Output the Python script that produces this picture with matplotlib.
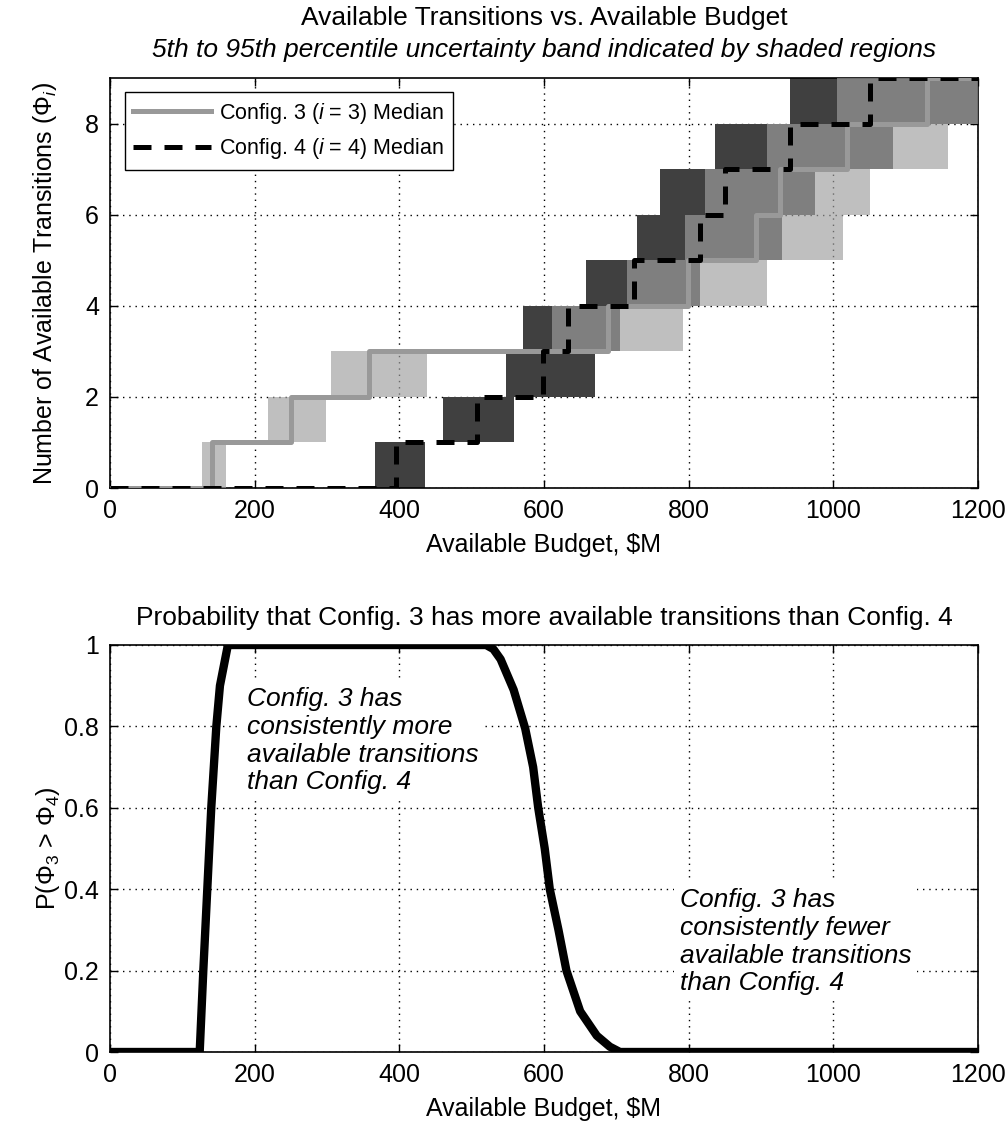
import numpy as np
import matplotlib
matplotlib.use('Agg')
import matplotlib.pyplot as plt

plt.rcParams['font.family'] = ['Liberation Sans', 'DejaVu Sans']
plt.rcParams['mathtext.fontset'] = 'custom'
plt.rcParams['mathtext.rm'] = 'Liberation Sans'
plt.rcParams['mathtext.it'] = 'Liberation Sans:italic'
plt.rcParams['font.size'] = 18

# median step locations ($M at which each extra transition becomes available)
c3_steps = [0, 141, 250, 358, 689, 799, 893, 926, 1019, 1130]
c4_steps = [0, 396, 507, 598, 633, 724, 816, 850, 940, 1051]
levels = [0, 1, 2, 3, 4, 5, 6, 7, 8, 9]

# 5th / 95th percentile of budget for reaching level k (k = 1..9)
c3_lo = [127, 218, 306, 611, 715, 795, 823, 908, 1005]
c3_hi = [161, 298, 438, 792, 908, 1013, 1051, 1159, 1250]
c4_lo = [366, 461, 547, 571, 658, 729, 760, 836, 940]
c4_hi = [436, 559, 671, 705, 816, 929, 975, 1083, 1250]

# P(phi3 > phi4) vs budget
p_x = [0, 124, 129, 134.5, 140, 147, 152, 163, 520, 530, 540, 558, 574, 585,
       592, 601, 608, 620, 631, 650, 673, 691, 705, 1200]
p_y = [0, 0, 0.2, 0.4, 0.6, 0.8, 0.9, 1, 1, 0.99, 0.965, 0.89, 0.795, 0.70,
       0.60, 0.50, 0.40, 0.30, 0.20, 0.10, 0.04, 0.013, 0, 0]

W, H = 1006, 1127
fig = plt.figure(figsize=(W / 100, H / 100), dpi=100)
ax1 = fig.add_axes([110 / W, 1 - 488 / H, 868 / W, 410 / H])
ax2 = fig.add_axes([110 / W, 1 - 1052 / H, 868 / W, 407 / H])


def style(ax):
    ax.set_axisbelow(True)
    ax.grid(True, color='k', linestyle=(0, (1, 3.5)), linewidth=1.0)
    ax.tick_params(direction='in', top=True, right=True, length=6,
                   width=1, labelsize=18, pad=8)
    for s in ax.spines.values():
        s.set_linewidth(1.2)
    ax.set_xlim(0, 1200)
    ax.set_xticks(np.arange(0, 1201, 200))
    ax.set_xlabel(r'Available Budget, \$M', labelpad=7, fontsize=18)


style(ax1)
k = np.arange(1, 10)
ax1.barh(k - 0.5, np.array(c4_hi) - np.array(c4_lo), left=c4_lo, height=1.0,
         color='0.25', linewidth=0, zorder=2)
ax1.barh(k - 0.5, np.array(c3_hi) - np.array(c3_lo), left=c3_lo, height=1.0,
         color='0.625', alpha=2 / 3, linewidth=0, zorder=3)
ax1.step(c3_steps + [1200], levels + [9], where='post', color='0.6', lw=3.6,
         zorder=4, label=r'Config. 3 ($\mathit{i}$ = 3) Median')
ax1.step(c4_steps + [1200], levels + [9], where='post', color='k', lw=3.6,
         dashes=(3.6, 2.6), zorder=5, label=r'Config. 4 ($\mathit{i}$ = 4) Median')
ax1.set_ylim(0, 9)
ax1.set_yticks([0, 2, 4, 6, 8])
ax1.set_ylabel(r'Number of Available Transitions ($\Phi_i$)', fontsize=18)
ax1.yaxis.label.set_verticalalignment('center')
ax1.yaxis.set_label_coords(-0.075, 0.5)
ax1.text(0.5, 1.1463, 'Available Transitions vs. Available Budget',
         transform=ax1.transAxes, ha='center', va='center', fontsize=19)
ax1.text(0.5, 1.0683, '5th to 95th percentile uncertainty band indicated by shaded regions',
         transform=ax1.transAxes, ha='center', va='center', fontsize=19,
         fontstyle='italic')
leg = ax1.legend(loc='upper left', bbox_to_anchor=(0.017, 0.966), fontsize=15.5,
                 fancybox=False, framealpha=1, edgecolor='k', handlelength=3.6,
                 handletextpad=0.4, labelspacing=0.5, borderpad=0.4,
                 borderaxespad=0)
leg.get_frame().set_linewidth(1.0)

style(ax2)
ax2.plot(p_x, p_y, color='k', lw=6, solid_joinstyle='round', zorder=3)
ax2.set_ylim(0, 1)
ax2.set_yticks(np.arange(0, 1.01, 0.2))
ax2.set_yticklabels(['0', '0.2', '0.4', '0.6', '0.8', '1'])
ax2.set_ylabel(r'P($\Phi_3$ > $\Phi_4$)', fontsize=18)
ax2.yaxis.label.set_verticalalignment('center')
ax2.yaxis.set_label_coords(-0.072, 0.5)
ax2.text(0.5, 1.0663, 'Probability that Config. 3 has more available transitions than Config. 4',
         transform=ax2.transAxes, ha='center', va='center', fontsize=19)
ax2.text(189, 0.897, 'Config. 3 has\nconsistently more\navailable transitions\nthan Config. 4',
         fontstyle='italic', fontsize=19, ha='left', va='top', linespacing=1.2,
         zorder=4, bbox=dict(facecolor='white', edgecolor='none', pad=4))
ax2.text(788, 0.403, 'Config. 3 has\nconsistently fewer\navailable transitions\nthan Config. 4',
         fontstyle='italic', fontsize=19, ha='left', va='top', linespacing=1.2,
         zorder=4, bbox=dict(facecolor='white', edgecolor='none', pad=4))

fig.savefig('out.png', dpi=100)
